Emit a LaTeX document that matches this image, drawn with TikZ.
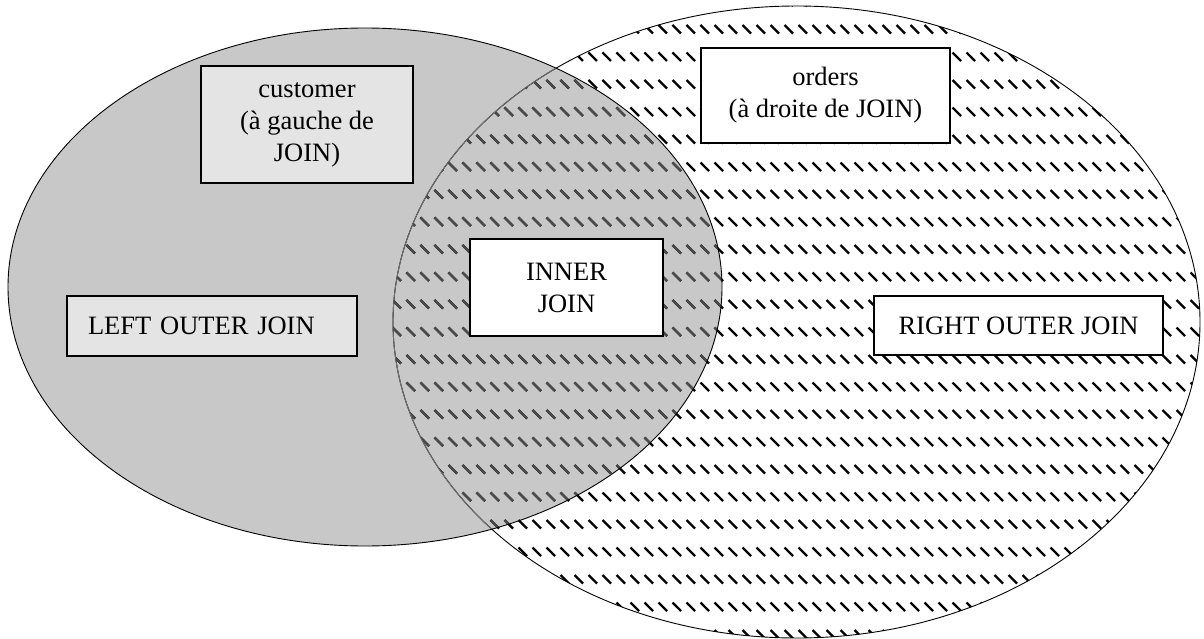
\documentclass[tikz,border=0pt]{standalone}
\usepackage{fontspec}
\setmainfont{Liberation Serif}
\usetikzlibrary{patterns}
\definecolor{leftfill}{HTML}{C8C8C8}
\definecolor{boxfill}{HTML}{E4E4E4}
\definecolor{darkdash}{HTML}{4A4A4A}
\definecolor{innerline}{HTML}{707070}
\pgfdeclarepatternformonly{joindash}{\pgfpoint{-1pt}{-1pt}}{\pgfpoint{11pt}{11pt}}{\pgfpoint{14pt}{27.5pt}}{%
  \pgfsetlinewidth{2.2pt}%
  \pgfsetbuttcap%
  \pgfpathmoveto{\pgfpoint{0.5pt}{9pt}}%
  \pgfpathlineto{\pgfpoint{9pt}{0.5pt}}%
  \pgfusepath{stroke}%
}
\tikzset{
  joinbox/.style={draw=black, line width=1.6pt, rectangle, inner sep=0pt,
    align=center, font=\fontsize{26.5}{32}\selectfont, text=black},
  setline/.style={line width=0.9pt}
}
\begin{document}
\begin{tikzpicture}[x=1pt,y=-1pt]
\useasboundingbox (0,0) rectangle (1204,639);
% left set (customer)
\fill[leftfill] (365,287) ellipse [x radius=357pt, y radius=259pt];
% right set (orders), hatched
\fill[pattern=joindash, pattern color=black] (796.5,322) ellipse [x radius=403.5pt, y radius=316pt];
\begin{scope}
  \clip (365,287) ellipse [x radius=357pt, y radius=259pt];
  \fill[pattern=joindash, pattern color=darkdash] (796.5,322) ellipse [x radius=403.5pt, y radius=316pt];
\end{scope}
\draw[setline, black] (796.5,322) ellipse [x radius=403.5pt, y radius=316pt];
\begin{scope}
  \clip (365,287) ellipse [x radius=357pt, y radius=259pt];
  \draw[setline, innerline] (796.5,322) ellipse [x radius=403.5pt, y radius=316pt];
\end{scope}
\draw[setline, black] (365,287) ellipse [x radius=357pt, y radius=259pt];
% labels
\node[joinbox, fill=boxfill, minimum width=212pt, minimum height=117pt] (customer) at (307,124.5)
  {customer\\(à gauche de\\JOIN)};
\node[joinbox, fill=boxfill, minimum height=60pt, text width=248pt, align=left, inner xsep=21pt] (leftouter) at (212,326)
  {LEFT OUTER JOIN};
\node[joinbox, fill=white, minimum width=193pt, minimum height=97pt] (inner) at (566.5,287.5)
  {INNER\\JOIN};
\node[joinbox, fill=white, minimum width=249pt, minimum height=95pt] (orders) at (825.5,95.5)
  {orders\\(à droite de JOIN)};
\node[joinbox, fill=white, minimum width=289pt, minimum height=59pt] (rightouter) at (1018.5,325.5)
  {RIGHT OUTER JOIN};
\end{tikzpicture}
\end{document}
